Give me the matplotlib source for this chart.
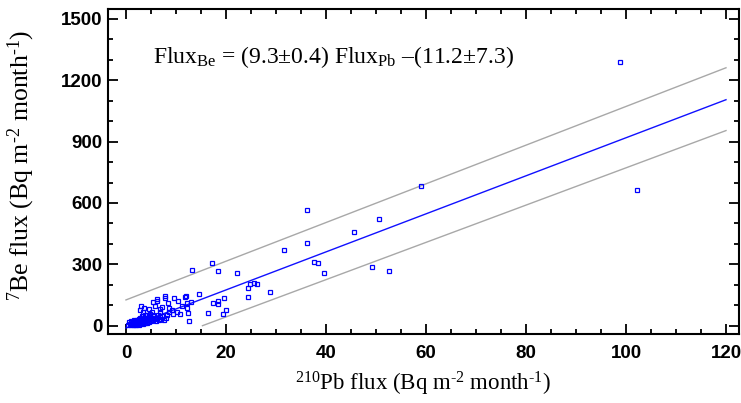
import matplotlib
matplotlib.use('Agg')
import matplotlib.pyplot as plt
from matplotlib.ticker import MultipleLocator

# 210Pb flux vs 7Be flux (Bq m-2 month-1)
pb_flux = [98.8, 102.2, 59.0, 36.3, 50.6, 45.6, 36.3, 31.6, 17.2, 13.3, 18.4, 22.3,
           37.7, 38.5, 39.6, 49.2, 52.6, 25.6, 26.2, 24.9, 24.5, 28.9, 24.5, 19.6,
           14.7, 18.5, 18.5, 17.5, 20.1, 19.5, 16.5, 12.7, 11.9, 12.1, 13.1, 12.2,
           12.3, 12.5, 11.2, 10.5, 9.7, 8.5, 8.6, 9.3, 10.2, 10.9, 9.5, 8.7, 7.9,
           3.1, 4.6, 3.5, 5.8, 6.2, 6.3, 5.5, 7.8, 3.7, 2.8, 5.2, 6.9, 7.2, 6.8,
           5.5, 3.9, 3.5,
           0.5, 0.8, 1.0, 1.2, 1.3, 1.5, 1.6, 1.8, 1.9, 2.0, 2.1, 2.2, 2.3, 2.4,
           2.5, 2.6, 2.7, 2.8, 2.9, 3.0, 3.1, 3.2, 3.3, 3.4, 3.5, 3.6, 3.7, 3.8,
           3.9, 4.0, 4.1, 4.2, 4.3, 4.4, 4.5, 4.6, 4.7, 4.8, 4.9, 5.0, 5.2, 5.4,
           5.6, 5.8, 6.0, 6.2, 6.4, 6.6, 6.8, 7.0, 7.3, 7.6, 8.0, 8.3, 1.4, 2.0,
           2.6, 0.7, 1.1, 1.7]
be_flux = [1287, 662, 682, 566, 520, 460, 405, 372, 305, 272, 269, 259,
           312, 308, 259, 289, 268, 210, 204, 202, 186, 166, 142, 137,
           157, 119, 106, 113, 75, 57, 61, 21, 142, 147, 117, 110,
           88, 64, 96, 122, 134, 113, 88, 77, 66, 57, 56, 67, 145,
           98, 82, 69, 96, 122, 131, 114, 137, 85, 78, 69, 82, 90, 67,
           54, 50, 48,
           5, 10, 3, 15, 8, 20, 12, 5, 25, 18, 10, 30, 22, 14,
           6, 35, 26, 17, 40, 12, 30, 22, 45, 8, 35, 27, 18, 40,
           12, 30, 24, 50, 15, 36, 28, 42, 20, 33, 55, 25, 40, 30,
           45, 35, 22, 38, 50, 28, 42, 35, 48, 30, 40, 52, 2, 4,
           1, 18, 24, 30]

# fitted line and prediction band end points
slope = 9.3
intercept = -11.2
fit_x = [0, 120]
upper_x = [0, 120]
upper_y = [126, 1261]
lower_x = [15.3, 120]
lower_y = [0, 954]

plt.rcParams['mathtext.fontset'] = 'custom'
plt.rcParams['mathtext.rm'] = 'Liberation Serif'
plt.rcParams['mathtext.it'] = 'Liberation Serif:italic'

fig = plt.figure(figsize=(7.41, 4.03), dpi=100)
ax = fig.add_axes([0.1457, 0.1705, 0.8516, 0.8065])

ax.plot(upper_x, upper_y, color='#a8a8a8', lw=1.0)
ax.plot(lower_x, lower_y, color='#a8a8a8', lw=1.0)
ax.plot(fit_x, [slope * v + intercept for v in fit_x], color='#1010ff', lw=1.0)
ax.plot(pb_flux, be_flux, ls='none', marker='s', ms=3.2, mfc='none',
        mec='#0000ff', mew=0.9)

ax.set_xlim(-3.6, 122.6)
ax.set_ylim(-42, 1547)
ax.xaxis.set_major_locator(MultipleLocator(20))
ax.xaxis.set_minor_locator(MultipleLocator(5))
ax.yaxis.set_major_locator(MultipleLocator(300))
ax.yaxis.set_minor_locator(MultipleLocator(100))
ax.tick_params(which='both', direction='in', top=True, right=True, width=1.3)
ax.tick_params(which='major', length=7.5)
ax.tick_params(which='minor', length=3.8)
ax.tick_params(axis='x', pad=8)
ax.tick_params(axis='y', pad=4)
for s in ax.spines.values():
    s.set_linewidth(1.5)
for lab in ax.get_xticklabels() + ax.get_yticklabels():
    lab.set_fontfamily('Liberation Sans')
    lab.set_fontweight('bold')
    lab.set_fontsize(13.5)

ax.set_xlabel('$^{210}$Pb flux (Bq m$^{\u20102}$ month$^{\u20101}$)',
              family='Liberation Serif', fontsize=16.5, labelpad=5)
ax.set_ylabel('$^{7}$Be flux (Bq m$^{\u20102}$ month$^{\u20101}$)',
              family='Liberation Serif', fontsize=18.5)
ax.yaxis.set_label_coords(-0.113, 0.52)

ax.text(0.071, 0.853,
        'Flux$_{\\mathrm{Be}}$ = (9.3\u00b10.4) Flux$_{\\mathrm{Pb}}$ \u2013(11.2\u00b17.3)',
        transform=ax.transAxes, family='Liberation Serif', fontsize=17,
        va='center', ha='left')

fig.savefig('out.png', dpi=100)
